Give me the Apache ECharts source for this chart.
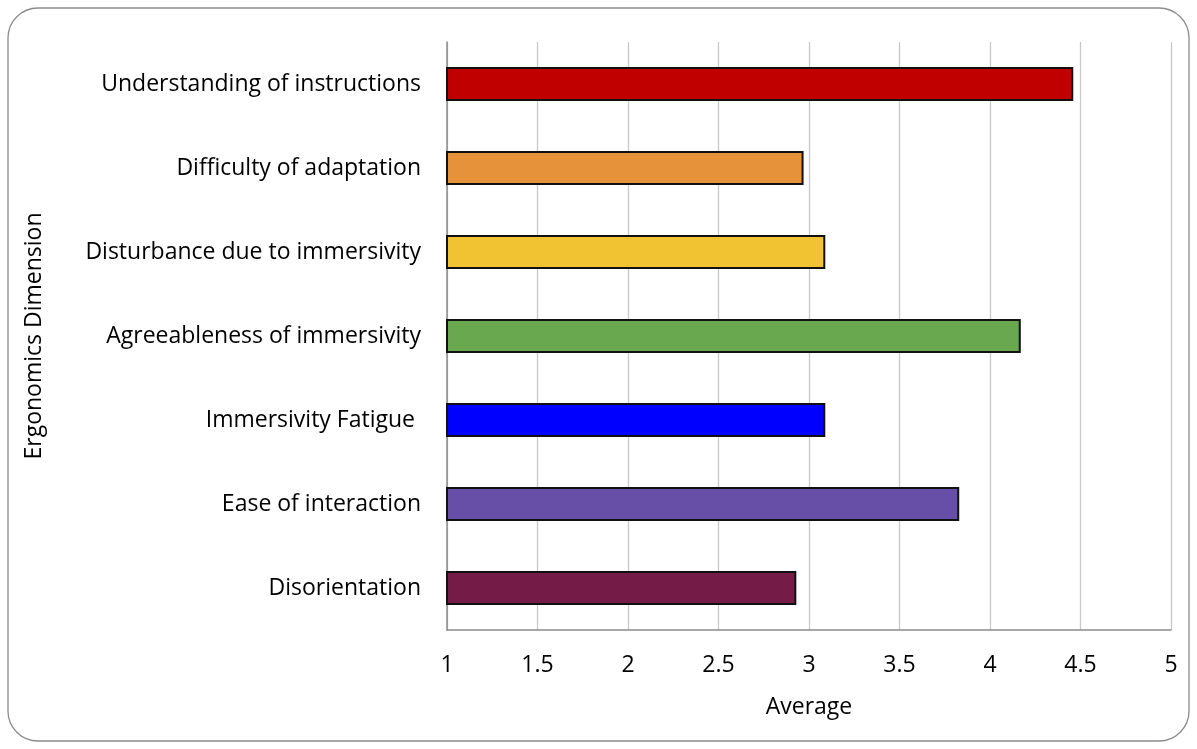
<!DOCTYPE html>
<html>
<head>
<meta charset="utf-8">
<script src="https://cdn.jsdelivr.net/npm/echarts@6/dist/echarts.min.js"></script>
<style>html,body{margin:0;padding:0;background:#fff;}#c{width:1197px;height:749px;}</style>
</head>
<body>
<div id="c"></div>
<script>
const categories = ["Understanding of instructions","Difficulty of adaptation","Disturbance due to immersivity","Agreeableness of immersivity","Immersivity Fatigue ","Ease of interaction","Disorientation"];
const values = [4.46, 2.97, 3.09, 4.17, 3.09, 3.83, 2.93];
const barColors = ["#C00000","#E6923A","#F1C232","#6AA84F","#0000FF","#674EA7","#741B47"];
const xTicks = [1, 1.5, 2, 2.5, 3, 3.5, 4, 4.5, 5];

const FONT = "'Open Sans', sans-serif";
const FS = 23;
const chart = echarts.init(document.getElementById('c'), null, {renderer:'canvas'});
chart.setOption({
  backgroundColor:'#fff',
  animation:false,
  graphic:[{type:'rect', shape:{x:8,y:8,width:1181,height:733,r:30}, style:{fill:'none', stroke:'#8c8c8c', lineWidth:1.3}, z:-1}],
  grid:{left:447, right:26, top:42, bottom:119},
  xAxis:{
    type:'value', min:xTicks[0], max:xTicks[xTicks.length-1], interval:0.5,
    name:'Average', nameLocation:'middle', nameGap:66,
    nameTextStyle:{fontFamily:FONT, fontSize:FS, color:'#000'},
    axisLine:{show:true, lineStyle:{color:'#8c8c8c', width:1.5}},
    axisTick:{show:false},
    axisLabel:{fontFamily:FONT, fontSize:FS, color:'#000', margin:24},
    splitLine:{show:true, lineStyle:{color:'#c8c8c8', width:1.3}}
  },
  yAxis:{
    type:'category', data:categories, inverse:true,
    name:'Ergonomics Dimension', nameLocation:'middle', nameGap:401, nameRotate:90,
    nameTextStyle:{fontFamily:FONT, fontSize:FS, color:'#000'},
    axisLine:{show:true, lineStyle:{color:'#8c8c8c', width:1.5}},
    axisTick:{show:false},
    axisLabel:{fontFamily:FONT, fontSize:FS, color:'#000', margin:26},
    splitLine:{show:false}
  },
  series:[{
    type:'bar', barWidth:34,
    data: values.map((v,i)=>({value:v, itemStyle:{color:barColors[i]}})),
    itemStyle:{borderColor:'#111', borderWidth:2}
  }]
});
</script>
</body>
</html>
